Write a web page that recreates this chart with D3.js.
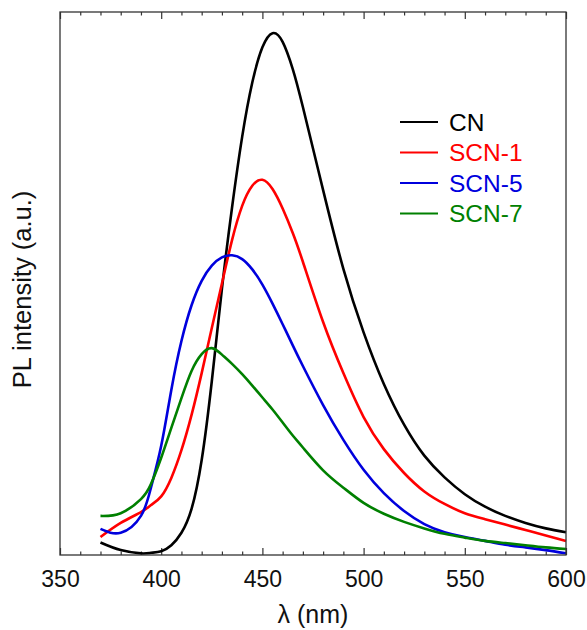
<!DOCTYPE html>
<html>
<head>
<meta charset="utf-8">
<script src="https://cdn.jsdelivr.net/npm/d3@7"></script>
<style>
  body { margin: 0; background: #fff; }
  text { font-family: "Liberation Sans", Arial, sans-serif; }
</style>
</head>
<body>
<div id="chart"></div>
<script>
// wavelength grid (nm)
const wavelengths = [370, 380, 390, 395, 400, 405, 410, 415, 420, 425, 430, 435, 440, 445, 450, 455,
  460, 465, 470, 480, 490, 500, 510, 520, 530, 540, 550, 560, 570, 580, 590, 600];

// PL intensity, arbitrary units
const cn = [2.3, 0.9, 0.3, 0.4, 0.7, 1.8, 4.1, 8.5, 17.5, 32.0, 49.0, 64.0, 77.0, 87.0, 93.5, 96.1,
  94.5, 89.5, 82.5, 67.2, 52.7, 41.0, 31.5, 24.0, 18.3, 14.3, 11.2, 8.9, 7.2, 5.9, 4.9, 4.2];
const scn1 = [3.3, 5.9, 7.9, 9.2, 10.8, 14.2, 19.3, 25.8, 33.5, 41.8, 50.0, 58.0, 64.3, 68.0, 69.1, 67.4,
  63.8, 59.3, 54.0, 42.9, 33.5, 25.4, 19.5, 15.1, 11.7, 9.4, 7.7, 6.6, 5.6, 4.6, 3.6, 2.6];
const scn5 = [4.8, 4.1, 7.2, 12.5, 20.1, 30.4, 39.4, 46.0, 50.5, 53.3, 54.8, 55.2, 54.5, 52.6, 49.8, 46.3,
  42.5, 38.6, 34.8, 27.6, 21.2, 15.7, 11.4, 8.1, 5.7, 4.2, 3.3, 2.6, 1.9, 1.4, 0.9, 0.3];
const scn7 = [7.2, 7.7, 10.3, 13.1, 17.9, 23.4, 28.9, 33.9, 37.0, 38.1, 36.9, 35.2, 33.3, 31.2, 29.0, 26.8,
  24.4, 22.0, 19.8, 15.6, 12.4, 9.6, 7.6, 6.1, 4.9, 3.9, 3.2, 2.6, 2.2, 1.8, 1.4, 1.1];

const seriesNames = ['CN', 'SCN-1', 'SCN-5', 'SCN-7'];
const seriesColors = ['#000000', '#ff0000', '#0000dd', '#008000'];
const seriesValues = [cn, scn1, scn5, scn7];
const xTicks = [350, 400, 450, 500, 550, 600];

const width = 587, height = 630;
const margin = { top: 12, right: 21, bottom: 75, left: 60 };

const svg = d3.select('#chart').append('svg')
  .attr('width', width)
  .attr('height', height);

const x = d3.scaleLinear().domain([350, 600]).range([margin.left, width - margin.right]);
const y = d3.scaleLinear().domain([0, 100]).range([height - margin.bottom, margin.top]);

// minor ticks every 10 nm
const minor = d3.range(350, 601, 10).filter(v => v % 50 !== 0);

// bottom axis (ticks pointing inward)
svg.append('g')
  .attr('transform', `translate(0,${y(0)})`)
  .call(d3.axisBottom(x).tickValues(xTicks).tickSize(-7).tickPadding(16).tickFormat(d3.format('d')))
  .call(g => g.select('.domain').remove())
  .call(g => g.selectAll('line').attr('stroke', '#333').attr('stroke-width', 1.2))
  .call(g => g.selectAll('text').attr('font-size', 23).attr('fill', '#111')
    .attr('font-family', '"Liberation Sans", Arial, sans-serif'));
svg.append('g')
  .attr('transform', `translate(0,${y(0)})`)
  .call(d3.axisBottom(x).tickValues(minor).tickSize(-3.5).tickFormat(''))
  .call(g => g.select('.domain').remove())
  .call(g => g.selectAll('line').attr('stroke', '#333').attr('stroke-width', 1.2));

// top axis
svg.append('g')
  .attr('transform', `translate(0,${y(100)})`)
  .call(d3.axisTop(x).tickValues(xTicks).tickSize(-7).tickFormat(''))
  .call(g => g.select('.domain').remove())
  .call(g => g.selectAll('line').attr('stroke', '#333').attr('stroke-width', 1.2));
svg.append('g')
  .attr('transform', `translate(0,${y(100)})`)
  .call(d3.axisTop(x).tickValues(minor).tickSize(-3.5).tickFormat(''))
  .call(g => g.select('.domain').remove())
  .call(g => g.selectAll('line').attr('stroke', '#333').attr('stroke-width', 1.2));

// curves
const line = d3.line()
  .x((d, i) => x(wavelengths[i]))
  .y(d => y(d))
  .curve(d3.curveNatural);

svg.append('g')
  .selectAll('path')
  .data(seriesValues)
  .enter()
  .append('path')
  .attr('d', d => line(d))
  .attr('fill', 'none')
  .attr('stroke', (d, i) => seriesColors[i])
  .attr('stroke-width', 2.6)
  .attr('stroke-linejoin', 'round');

// frame
svg.append('rect')
  .attr('x', x(350))
  .attr('y', y(100))
  .attr('width', x(600) - x(350))
  .attr('height', y(0) - y(100))
  .attr('fill', 'none')
  .attr('stroke', '#333')
  .attr('stroke-width', 1.3);

// legend
const legend = svg.append('g')
  .selectAll('.legend')
  .data(seriesNames)
  .enter()
  .append('g')
  .attr('class', 'legend')
  .attr('transform', (d, i) => `translate(400,${122 + i * 30.5})`);

legend.append('line')
  .attr('x1', 0).attr('x2', 38)
  .attr('stroke', (d, i) => seriesColors[i])
  .attr('stroke-width', 2.2);

legend.append('text')
  .attr('x', 49)
  .attr('dy', '0.36em')
  .attr('font-size', 24.5)
  .attr('fill', (d, i) => seriesColors[i])
  .text(d => d);

// axis titles
svg.append('text')
  .attr('x', (x(350) + x(600)) / 2)
  .attr('y', 623)
  .attr('text-anchor', 'middle')
  .attr('font-size', 25)
  .attr('fill', '#111')
  .text('λ (nm)');

svg.append('text')
  .attr('transform', `translate(31,${(y(0) + y(100)) / 2 + 6}) rotate(-90)`)
  .attr('text-anchor', 'middle')
  .attr('font-size', 25.5)
  .attr('fill', '#111')
  .text('PL intensity (a.u.)');
</script>
</body>
</html>
